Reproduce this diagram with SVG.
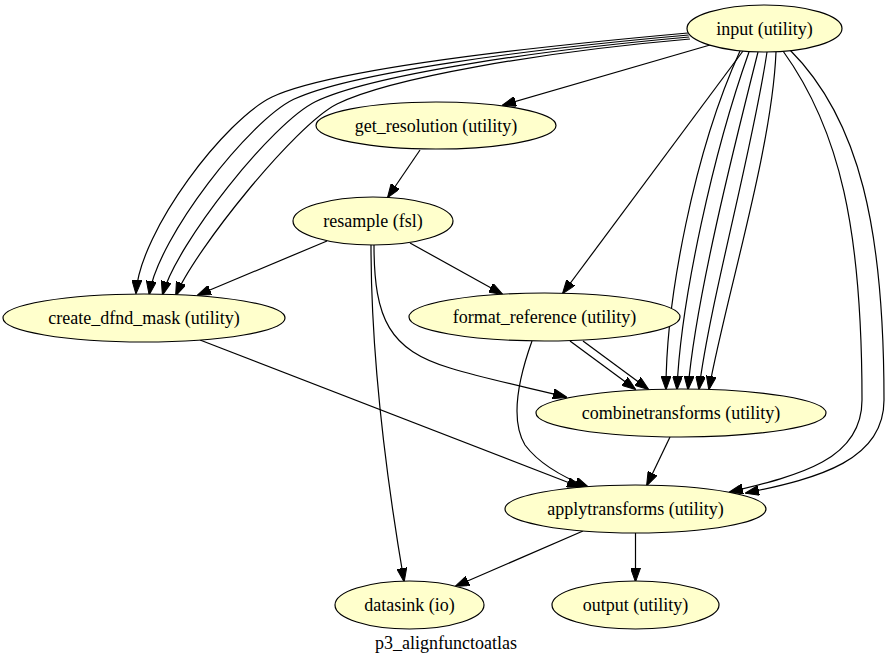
<svg xmlns="http://www.w3.org/2000/svg" width="893" height="665" viewBox="0 0 893 665">
<style>
.node ellipse{fill:#ffffcc;stroke:#000;stroke-width:1.2}
.node text,.title{font-family:"Liberation Serif","Times New Roman",serif;font-size:18px;fill:#000;text-anchor:middle}
.edges path{fill:none;stroke:#000;stroke-width:1.2;marker-end:url(#ah)}
</style>
<defs>
<marker id="ah" markerUnits="userSpaceOnUse" markerWidth="14" markerHeight="10" refX="13" refY="5" orient="auto" viewBox="0 0 14 10">
<path d="M0,0 L14,5 L0,10 z" fill="#000" stroke="#000" stroke-width="1"/>
</marker>
</defs>
<rect width="893" height="665" fill="#fff"/>
<g id="edges" class="edges">
<path d="M710,45 L503,105"/>
<path d="M688,33 C520,48 330,70 272,97 C226,119 140,230 136,293"/>
<path d="M688.7,35 C526.7,49.3 350,72.7 293.7,99.3 C249,121 158.3,236.7 149.3,294"/>
<path d="M689.3,37 C533.3,50.7 370,75.3 315.3,101.7 C272,123 176.7,243.3 162.7,294.3"/>
<path d="M690,39 C540,52 390,78 337,104 C295,125 195,250 176,295"/>
<path d="M743,51 L563,293"/>
<path d="M740,51 C694,152 666,300 666,389"/>
<path d="M749,52 C713.5,151.5 680.75,300 677,389"/>
<path d="M758,52 C733,151 695.5,300 688,389"/>
<path d="M767,52 C752.5,150.5 710.25,300 699,389"/>
<path d="M776,52 C772,150 725,300 709,389"/>
<path d="M783,51 C840,130 862,230 862,400 C862,460 800,475 730,492"/>
<path d="M790,50 C860,120 884,230 884,400 C884,460 820,478 746,493"/>
<path d="M420,150 L388,197"/>
<path d="M327,241 L198,295"/>
<path d="M410,243 L502,294"/>
<path d="M371,245 C371,350 385,470 404,581"/>
<path d="M374,245 C374,320 390,350 450,368 C490,380 530,388 566,397"/>
<path d="M200,340 L580,487"/>
<path d="M570,341 L635,389"/>
<path d="M583,341 L648,389"/>
<path d="M532,341 C518,380 510,420 525,445 C540,465 565,478 588,487"/>
<path d="M670,437 L647,485"/>
<path d="M583,531 L456,586"/>
<path d="M635.5,533 L635.5,581"/>
</g>
<g id="input" class="node"><ellipse cx="764.5" cy="28.5" rx="77.5" ry="23.5"/><text x="764.5" y="34.5">input (utility)</text></g>
<g id="get_resolution" class="node"><ellipse cx="436" cy="125.5" rx="120" ry="23.5"/><text x="436" y="131.5">get_resolution (utility)</text></g>
<g id="resample" class="node"><ellipse cx="373" cy="221" rx="80" ry="24"/><text x="373" y="227">resample (fsl)</text></g>
<g id="create_dfnd_mask" class="node"><ellipse cx="144" cy="318" rx="141" ry="24"/><text x="144" y="324">create_dfnd_mask (utility)</text></g>
<g id="format_reference" class="node"><ellipse cx="544.5" cy="317" rx="135.5" ry="24"/><text x="544.5" y="323">format_reference (utility)</text></g>
<g id="combinetransforms" class="node"><ellipse cx="681" cy="413" rx="145" ry="24"/><text x="681" y="419">combinetransforms (utility)</text></g>
<g id="applytransforms" class="node"><ellipse cx="635.5" cy="509" rx="130.5" ry="24"/><text x="635.5" y="515">applytransforms (utility)</text></g>
<g id="datasink" class="node"><ellipse cx="409.5" cy="605" rx="74.5" ry="24"/><text x="409.5" y="611">datasink (io)</text></g>
<g id="output" class="node"><ellipse cx="635.5" cy="605" rx="83.5" ry="24"/><text x="635.5" y="611">output (utility)</text></g>
<text class="title" x="446" y="649">p3_alignfunctoatlas</text>
</svg>
